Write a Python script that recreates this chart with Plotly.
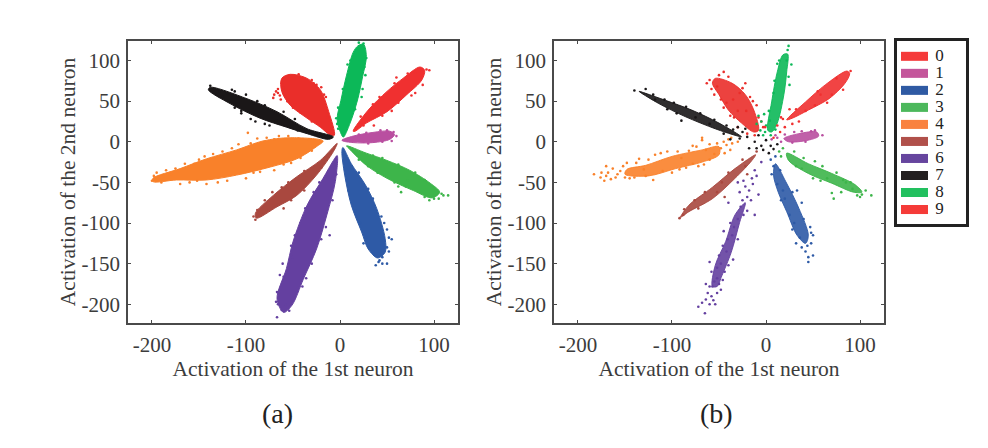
import plotly.graph_objects as go

DIGITS = ["0", "1", "2", "3", "4", "5", "6", "7", "8", "9"]
COLORS = ["#ea2e2a", "#b94fa0", "#2e5aa6", "#3db54a", "#f9812a", "#a9483f", "#6440a0", "#1a1718", "#0cb858", "#f03030"]
LEGEND_COLORS = ["#f53a3a", "#c4569b", "#2f5aa3", "#4cb85c", "#f98240", "#b0504a", "#66459e", "#231f20", "#22c05f", "#f53b38"]
X_TICKS = [-200, -100, 0, 100]
X_LABELS = ["-200", "-100", "0", "100"]
Y_TICKS = [100, 50, 0, -50, -100, -150, -200]
Y_LABELS = ["100", "50", "0", "-50", "-100", "-150", "-200"]
X_TITLE = "Activation of the 1st neuron"
Y_TITLE = "Activation of the 2nd neuron"
LEGEND_VALUES = [1] * 10

# panel (a): dense outlines of each cloud
outline_a_0 = [(-6,8),(-12,37),(-21,64),(-35,78),(-53,83),(-62,78),(-62,62),(-53,45),(-35,29),(-21,18),(-10,8)]
outline_a_1 = [(2,2),(14,7),(35,11.5),(53,13),(58,9),(53,3),(35,-1),(14,-1),(3,1)]
outline_a_2 = [(3,-7),(12,-27),(27,-53),(39,-82),(48,-119),(48,-136),(40,-143),(30,-132),(23,-111),(12,-78),(5,-41),(2,-12)]
outline_a_3 = [(7,-5),(28,-14),(50,-23),(74,-35),(96,-51),(106,-62),(98,-69),(78,-60),(50,-45),(28,-29),(11,-10)]
outline_a_4 = [(-18,1),(-53,5),(-82,1),(-110,-10),(-142,-21),(-170,-33),(-199,-45),(-199,-49),(-174,-47),(-142,-47),(-110,-41),(-74,-31),(-46,-21),(-25,-6)]
outline_a_5 = [(-3,-2),(-21,-23),(-46,-43),(-71,-66),(-90,-88),(-89,-94),(-67,-80),(-46,-66),(-25,-41),(-7,-12)]
outline_a_6 = [(-3,-17),(-5,-49),(-14,-90),(-25,-132),(-39,-169),(-51,-201),(-60,-210),(-67,-193),(-57,-156),(-50,-123),(-35,-78),(-18,-45),(-7,-23)]
outline_a_7 = [(-7,6),(-35,16),(-67,37),(-99,53),(-138,67),(-140,64),(-117,47),(-85,29),(-57,18),(-35,10),(-12,3)]
outline_a_8 = [(3,6),(-3,27),(1,51),(7,82),(14,110),(19,118),(25,120),(28,105),(24,80),(19,53),(12,27),(4,6)]
outline_a_9 = [(14,13),(30,39),(50,62),(67,78),(85,92),(90,88),(87,76),(71,58),(50,37),(28,23),(16,13)]

# panel (a): stray points around each cloud
spots_a_0 = [(-68,62),(-70,58),(-64,57),(-66,65),(-60,66),(-58,55),(-55,52),(-20,67),(-25,70),(-71,54),(-63,52),(-50,42),(-48,46),(-15,55),(-44,83),(-30,76),(-17,58),(-62,72),(-56,50),(-42,36),(-30,25),(-13,30),(-28,72),(-66,60)]
spots_a_1 = [(57,12),(60,7),(50,14),(43,14),(55,1),(28,11),(20,9),(45,0),(30,-2)]
spots_a_2 = [(45,-142),(50,-150),(45,-150),(41,-148),(52,-135),(38,-152),(55,-120),(47,-100),(50,-108),(25,-125),(50,-130),(42,-146),(35,-70),(30,-58),(20,-38),(44,-92),(28,-118),(21,-100),(16,-85),(9,-60),(36,-138),(52,-118)]
spots_a_3 = [(115,-66),(110,-66),(105,-70),(95,-72),(90,-68),(65,-62),(62,-55),(85,-45),(72,-48),(100,-57),(58,-50),(45,-20),(35,-17),(62,-28),(80,-38),(90,-47),(70,-55),(40,-38),(30,-30),(20,-22),(100,-70),(108,-64)]
spots_a_4 = [(-98,11),(-108,-3),(-135,-15),(-150,-22),(-165,-27),(-185,-35),(-200,-48),(-195,-38),(-190,-50),(-170,-52),(-142,-52),(-130,-50),(-120,-48),(-100,-45),(-85,-37),(-70,-35),(-60,-28),(-78,5),(-65,7),(-70,3),(-155,-27),(-180,-40),(-125,-12),(-115,-8),(-95,-2),(-88,4),(-55,7),(-44,4),(-33,3),(-188,-42),(-160,-50),(-152,-48),(-92,-38),(-52,-26),(-42,-20),(-30,-11),(-144,-18),(-175,-33),(-198,-42)]
spots_a_5 = [(-92,-92),(-90,-96),(-88,-84),(-78,-84),(-60,-82),(-72,-62),(-55,-50),(-80,-72),(-62,-56),(-38,-36),(-52,-72),(-38,-60),(-20,-32),(-84,-90)]
spots_a_6 = [(-67,-216),(-62,-207),(-68,-197),(-67,-185),(-64,-164),(-60,-166),(-51,-142),(-48,-115),(-37,-82),(-11,-115),(-58,-200),(-54,-208),(-40,-178),(-20,-120),(-42,-100),(-52,-128),(-28,-62),(-22,-50),(-15,-105),(-8,-72),(-30,-150),(-46,-185),(-36,-168),(-61,-150),(-66,-200),(-4,-40)]
spots_a_7 = [(-138,69),(-115,64),(-112,62),(-100,58),(-88,50),(-90,25),(-80,22),(-75,20),(-95,28),(-105,35),(-105,38),(-128,62),(-120,60),(-80,45),(-60,37),(-48,28),(-112,42),(-68,26),(-45,14),(-125,55),(-92,47)]
spots_a_8 = [(25,121),(28,103),(27,82),(23,55),(-4,29),(-2,16),(20,122),(-2,42),(3,65),(8,95),(24,65),(16,40),(-3,22),(26,92),(11,100)]
spots_a_9 = [(92,89),(95,88),(60,79),(72,84),(80,60),(76,57),(55,38),(36,20),(25,20),(88,70),(42,55),(35,46),(58,72),(22,31),(62,48),(45,32),(80,86),(66,56)]

# panel (b): dense cores of each cloud
outline_b_0 = [(-8,14),(-13,39),(-22,58),(-36,72),(-54,78),(-57,72),(-50,58),(-40,39),(-26,23),(-13,12)]
outline_b_1 = [(19,4),(35,10),(54,12),(56,7),(45,2),(24,0)]
outline_b_2 = [(10,-27),(21,-49),(35,-82),(45,-115),(42,-125),(33,-115),(22,-86),(13,-62),(8,-41)]
outline_b_3 = [(22,-14),(45,-27),(70,-39),(95,-53),(102,-62),(93,-62),(70,-51),(45,-39),(24,-23)]
outline_b_4 = [(-50,-6),(-68,-10),(-100,-18),(-128,-29),(-148,-34),(-150,-40),(-125,-42),(-96,-33),(-68,-25),(-50,-16)]
outline_b_5 = [(-11,-16),(-33,-33),(-57,-56),(-82,-78),(-91,-93),(-82,-86),(-57,-70),(-33,-45),(-15,-23)]
outline_b_6 = [(-22,-75),(-28,-99),(-37,-136),(-47,-165),(-52,-178),(-57,-178),(-54,-152),(-43,-123),(-33,-90)]
outline_b_7 = [(-26,6),(-50,23),(-79,39),(-107,51),(-135,62),(-134,61),(-114,47),(-86,31),(-54,16),(-33,8)]
outline_b_8 = [(2,14),(6,49),(12,86),(18,107),(23,108),(22,86),(19,58),(12,23),(6,12)]
outline_b_9 = [(22,27),(42,49),(63,70),(86,87),(89,84),(84,72),(67,53),(45,39),(28,29)]

# panel (b): looser points around each cloud and near the origin
spots_b_0 = [(-45,86),(-50,82),(-40,80),(-22,72),(-25,66),(-58,65),(-55,58),(-48,52),(-42,48),(-35,52),(-30,38),(-14,50),(-10,45),(-5,25),(-3,18),(-12,8),(-20,10),(-34,30),(-60,76),(-28,60),(-17,55),(-45,42),(-38,32),(-30,18),(-21,38),(-63,72),(-52,68),(-8,30)]
spots_b_1 = [(12,5),(10,8),(16,0),(60,8),(48,13),(38,13),(30,12),(28,-1),(6,3),(20,9),(42,0),(52,14)]
spots_b_2 = [(45,-148),(50,-140),(42,-135),(38,-130),(50,-115),(47,-105),(18,-60),(12,-52),(8,-30),(5,-22),(48,-125),(30,-100),(25,-90),(40,-95),(45,-142),(28,-62),(36,-118),(33,-60),(10,-18),(15,-35),(6,-40),(20,-70),(16,-72),(38,-75),(44,-128),(32,-125),(48,-112),(28,-108)]
spots_b_3 = [(112,-66),(102,-65),(100,-68),(92,-58),(72,-70),(70,-63),(82,-47),(60,-30),(18,-8),(14,-12),(30,-12),(38,-33),(50,-45),(85,-50),(65,-45),(16,-18),(40,-20),(52,-24),(75,-38),(90,-50),(106,-60),(80,-62),(58,-48),(32,-30),(97,-66)]
spots_b_4 = [(-183,-40),(-175,-38),(-170,-30),(-160,-44),(-148,-26),(-135,-21),(-118,-16),(-105,-12),(-78,-5),(-68,2),(-60,-3),(-68,5),(-55,-15),(-52,-2),(-45,0),(-38,-10),(-40,3),(-140,-44),(-120,-47),(-100,-38),(-85,-32),(-72,-30),(-60,-22),(-90,-20),(-130,-34),(-155,-36),(-165,-46),(-172,-48),(-37,5),(-30,0),(-176,-44),(-168,-38),(-163,-33),(-158,-40),(-152,-30),(-145,-45),(-138,-26),(-125,-22),(-112,-14),(-94,-12),(-82,-11),(-74,-6),(-64,-10),(-48,-8),(-44,-14),(-42,-4),(-36,-2),(-110,-36),(-92,-34),(-78,-27),(-66,-28),(-150,-44),(-128,-42),(-170,-42)]
spots_b_5 = [(-92,-94),(-87,-83),(-76,-72),(-72,-82),(-44,-68),(-47,-50),(-25,-22),(-20,-40),(-10,-12),(-65,-62),(-88,-90),(-40,-38),(-52,-62),(-22,-30)]
spots_b_6 = [(-72,-203),(-68,-198),(-65,-211),(-60,-200),(-58,-190),(-64,-175),(-55,-172),(-58,-160),(-50,-175),(-44,-160),(-60,-148),(-45,-110),(-35,-145),(-30,-120),(-40,-75),(-22,-55),(-15,-45),(-12,-35),(-5,-25),(-30,-50),(-28,-62),(-8,-65),(-16,-72),(-20,-85),(-12,-90),(-50,-140),(-38,-100),(-30,-95),(-42,-135),(-48,-150),(-52,-168),(-57,-178),(-46,-128),(-36,-115),(-27,-80),(-24,-90),(-62,-186),(-60,-178),(-56,-195),(-52,-186),(-64,-194),(-54,-200),(-48,-182),(-46,-170),(-40,-152),(-52,-155),(-41,-120),(-34,-105),(-25,-72),(-18,-60),(-14,-52),(-24,-48),(-20,-68),(-10,-42)]
spots_b_7 = [(-140,63),(-128,65),(-120,58),(-108,52),(-105,40),(-95,35),(-90,26),(-75,30),(-60,22),(-45,10),(-35,15),(-20,6),(-12,0),(-5,-5),(-28,4),(-18,-8),(0,2),(-8,8),(5,-5),(-3,-10),(12,-3),(8,-9),(-25,12),(-38,3),(-118,52),(-98,48),(-85,43),(-70,35),(-55,27),(-42,20),(3,-14),(-10,-8),(-30,18),(-22,16)]
spots_b_8 = [(23,113),(24,118),(14,100),(27,95),(-8,32),(-5,25),(-10,22),(-2,34),(0,20),(-3,8),(10,15),(5,8),(-6,14),(25,70),(8,60),(3,38),(12,96),(22,100),(4,26),(-1,12),(24,80),(9,75)]
spots_b_9 = [(90,87),(70,58),(65,48),(52,45),(35,25),(20,18),(15,12),(12,20),(-1,18),(8,5),(28,22),(18,28),(25,40),(58,58),(42,38),(32,40),(55,62),(75,78),(82,64),(16,30)]

OUTLINES_A = [outline_a_0, outline_a_1, outline_a_2, outline_a_3, outline_a_4, outline_a_5, outline_a_6, outline_a_7, outline_a_8, outline_a_9]
OUTLINES_B = [outline_b_0, outline_b_1, outline_b_2, outline_b_3, outline_b_4, outline_b_5, outline_b_6, outline_b_7, outline_b_8, outline_b_9]
SPOTS_A = [spots_a_0, spots_a_1, spots_a_2, spots_a_3, spots_a_4, spots_a_5, spots_a_6, spots_a_7, spots_a_8, spots_a_9]
SPOTS_B = [spots_b_0, spots_b_1, spots_b_2, spots_b_3, spots_b_4, spots_b_5, spots_b_6, spots_b_7, spots_b_8, spots_b_9]

W, H = 988, 448
FONT = "Liberation Serif"
INK = "#3c3c3c"
fig = go.Figure()


def hex_rgba(c, a):
    return f"rgba({int(c[1:3],16)},{int(c[3:5],16)},{int(c[5:7],16)},{a})"


def add_panel(outlines, spots, xa, ya, fill_alpha):
    for i, d in enumerate(DIGITS):
        ox, oy = zip(*outlines[i])
        fig.add_trace(go.Scatter(x=list(ox) + [ox[0]], y=list(oy) + [oy[0]], mode="lines", fill="toself",
                                 fillcolor=hex_rgba(COLORS[i], fill_alpha),
                                 line=dict(color=hex_rgba(COLORS[i], fill_alpha), width=1, shape="spline", smoothing=0.9),
                                 xaxis=xa, yaxis=ya, name=d, showlegend=False, hoverinfo="skip"))
        sx, sy = zip(*spots[i])
        fig.add_trace(go.Scatter(x=sx, y=sy, mode="markers", marker=dict(color=COLORS[i], size=2.6),
                                 xaxis=xa, yaxis=ya, name=d, showlegend=False))


add_panel(OUTLINES_A, SPOTS_A, "x", "y", 1)
add_panel(OUTLINES_B, SPOTS_B, "x2", "y2", 0.9)

# legend drawn as a small horizontal bar axis
fig.add_trace(go.Bar(x=LEGEND_VALUES, y=DIGITS, orientation="h", width=0.53, marker=dict(color=LEGEND_COLORS, line_width=0),
                     xaxis="x3", yaxis="y3", showlegend=False, hoverinfo="skip"))
fig.add_trace(go.Scatter(x=[1.27] * 10, y=DIGITS, mode="text", text=DIGITS, textposition="middle right",
                         textfont=dict(family=FONT, size=17, color="#222"), xaxis="x3", yaxis="y3", showlegend=False, hoverinfo="skip"))


def dom_x(a, b):
    return [a / W, b / W]


def dom_y(top, bot):
    return [1 - bot / H, 1 - top / H]


axis_common = dict(showgrid=False, zeroline=False, showline=True, linecolor="#4a4a4a", linewidth=1.6, mirror="ticks",
                   ticks="inside", ticklen=3, tickwidth=1, tickcolor="#4a4a4a",
                   tickfont=dict(family=FONT, size=21, color=INK))
title_font = dict(family=FONT, size=21.5, color=INK)
fig.update_layout(
    width=W, height=H, margin=dict(l=0, r=0, t=0, b=0), paper_bgcolor="white", plot_bgcolor="white", showlegend=False, bargap=0.4,
    xaxis=dict(domain=dom_x(128, 458), range=[-225.5, 125.5], tickvals=X_TICKS, ticktext=X_LABELS, anchor="y", ticklabelstandoff=2,
               title=dict(text=X_TITLE, font=title_font, standoff=0), **axis_common),
    yaxis=dict(domain=dom_y(41, 323), range=[-223, 124], tickvals=Y_TICKS, ticktext=Y_LABELS, anchor="x", ticklabelstandoff=2,
               title=dict(text=Y_TITLE, font=title_font, standoff=0), **axis_common),
    xaxis2=dict(domain=dom_x(554, 884), range=[-225.5, 125.5], tickvals=X_TICKS, ticktext=X_LABELS, anchor="y2", ticklabelstandoff=2,
                title=dict(text=X_TITLE, font=title_font, standoff=0), **axis_common),
    yaxis2=dict(domain=dom_y(41, 323), range=[-223, 124], tickvals=Y_TICKS, ticktext=Y_LABELS, anchor="x2", ticklabelstandoff=2,
                title=dict(text=Y_TITLE, font=title_font, standoff=0), **axis_common),
    xaxis3=dict(domain=dom_x(897, 966), range=[-0.148, 2.407], anchor="y3", showgrid=False, zeroline=False, showticklabels=False,
                ticks="", showline=True, mirror=True, linecolor="#222", linewidth=2.5),
    yaxis3=dict(domain=dom_y(41, 224), range=[9.85, -0.9], anchor="x3", type="category", categoryorder="array", categoryarray=DIGITS,
                showgrid=False, zeroline=False, showticklabels=False, ticks="", showline=True, mirror=True, linecolor="#222", linewidth=2.5),
    annotations=[
        dict(text="(a)", x=277 / W, y=1 - 413 / H, xref="paper", yref="paper", xanchor="center", yanchor="middle", showarrow=False,
             font=dict(family=FONT, size=28, color="#222")),
        dict(text="(b)", x=716 / W, y=1 - 413 / H, xref="paper", yref="paper", xanchor="center", yanchor="middle", showarrow=False,
             font=dict(family=FONT, size=28, color="#222")),
    ],
)
fig.write_html("out.html", config=dict(displayModeBar=False),
               post_script="document.body.style.margin='0';document.body.style.overflow='hidden';")
